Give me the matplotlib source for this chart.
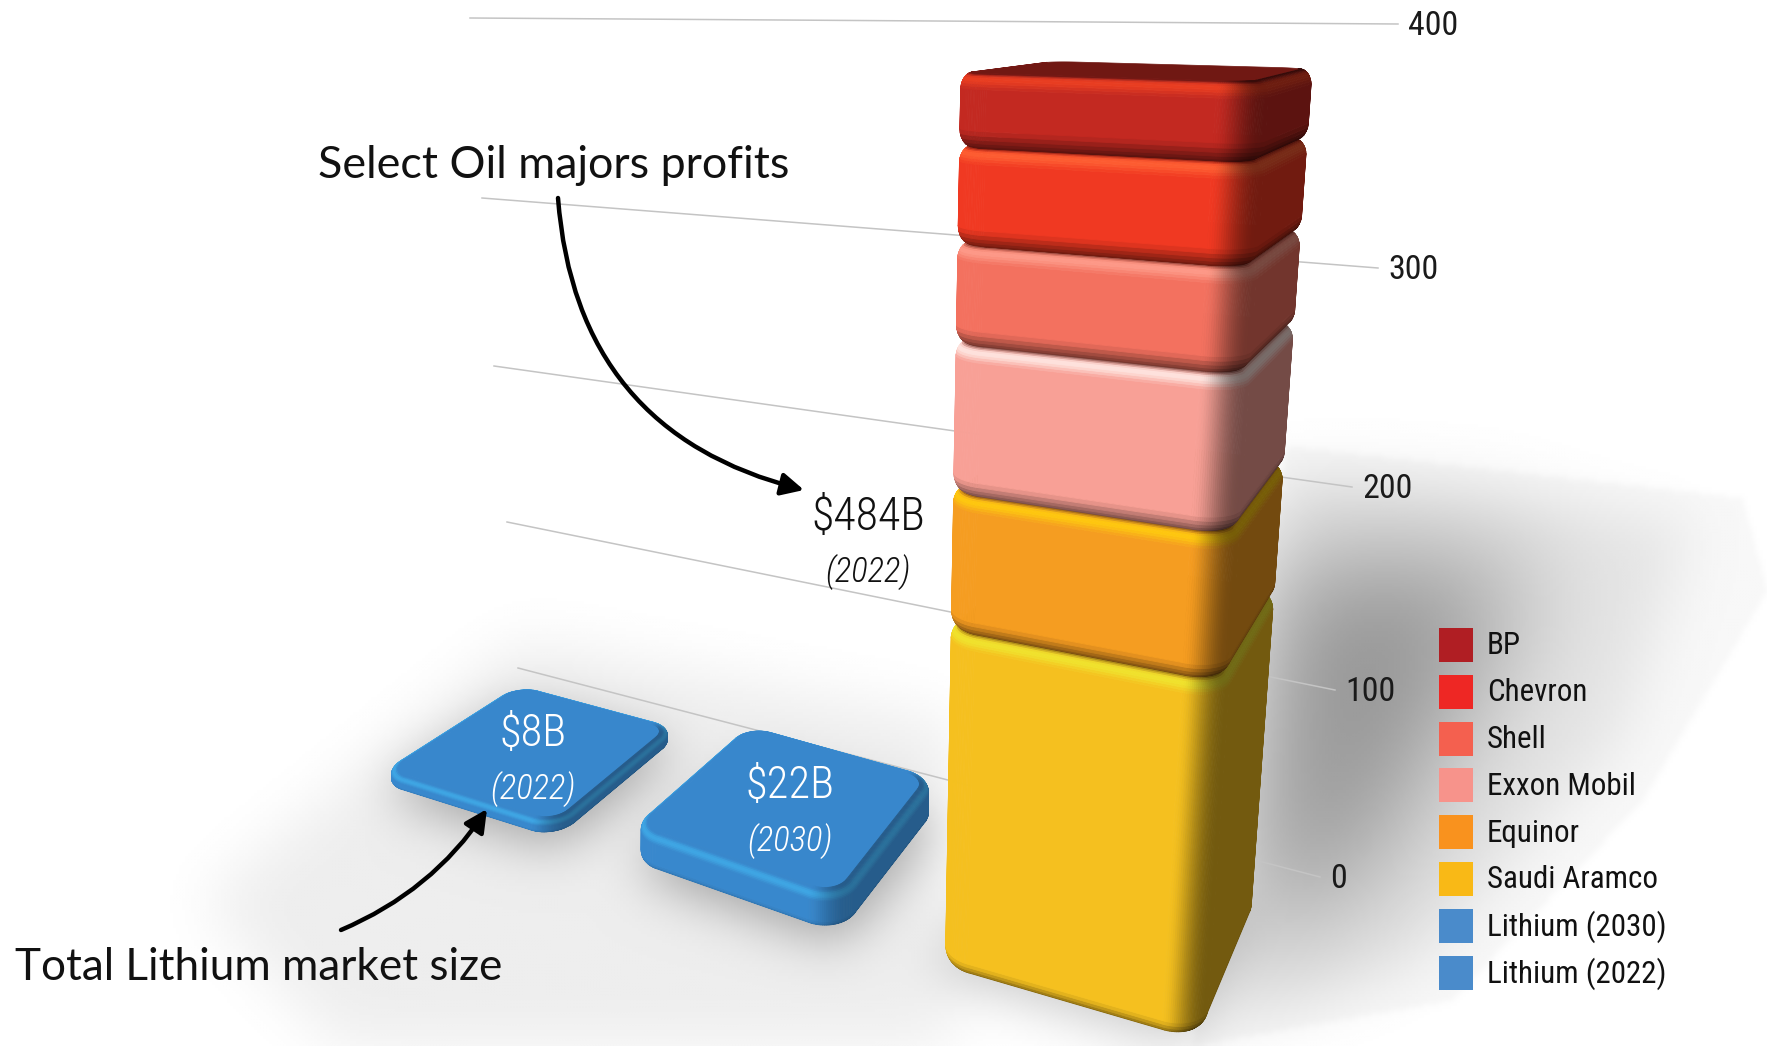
import numpy as np
import matplotlib
matplotlib.use("Agg")
import matplotlib.pyplot as plt
from matplotlib.collections import PolyCollection
from matplotlib.patches import FancyArrowPatch, Rectangle
from matplotlib.path import Path

W, H = 1767, 1046

# ---------------------------------------------------------------------------
# Data
# ---------------------------------------------------------------------------
oil_names = ["Saudi Aramco", "Equinor", "Exxon Mobil", "Shell", "Chevron", "BP"]
oil_values = [165, 62, 64, 41, 39, 29]
lithium_names = ["Lithium (2022)", "Lithium (2030)"]
lithium_values = [8, 22]
axis_ticks = [0, 100, 200, 300, 400]
legend_names = ["BP", "Chevron", "Shell", "Exxon Mobil", "Equinor", "Saudi Aramco",
                "Lithium (2030)", "Lithium (2022)"]
legend_colors = ["#B01E23", "#EE2724", "#F4604F", "#F7938B", "#F9921E", "#F9B916",
                 "#4A8BCB", "#4A8BCB"]

# surface colours of the 3D blocks, same order as oil_values
oil_face = [(0.96, 0.75, 0.12), (0.96, 0.61, 0.13), (0.97, 0.62, 0.58),
            (0.95, 0.44, 0.37), (0.94, 0.22, 0.13), (0.76, 0.16, 0.13)]
oil_high = [(0.94, 0.90, 0.18), (1.00, 0.80, 0.05), (1.00, 0.92, 0.90),
            (1.00, 0.62, 0.55), (1.00, 0.38, 0.20), (0.93, 0.25, 0.13)]
li_face = (0.22, 0.53, 0.80)
li_high = (0.25, 0.68, 0.92)

# ---------------------------------------------------------------------------
# Perspective: bar footprint is u 0..1, w 0..1, height is the axis value
# ---------------------------------------------------------------------------
calib_world = [(0, 0, 0), (1, 0, 0), (1, 1, 0), (0, 0, 400), (1, 0, 400), (1, 1, 400), (0, 1, 400)]
calib_pixel = [(934, 968), (1203, 1045), (1253, 905), (947, 72), (1258, 85), (1319, 66), (1050, 62)]
# slabs are drawn with a footprint of their own: front left, front right, back right, back left
slab_corners = [[(378, 785), (556, 841), (678, 739), (518, 696)],
                [(628, 863), (840, 938), (938, 811), (748, 758)]]
slab_lift = 1.6  # pixels per unit of value
# back wall: left and right end of each grid line
wall_left = [(518, 668), (507, 522), (494, 366), (482, 198), (470, 18)]
wall_right = [(1320, 877), (1335, 690), (1352, 487), (1378, 268), (1398, 24)]


def fit_camera(world, pixel):
    rows = []
    for (X, Y, Z), (x, y) in zip(world, pixel):
        rows.append([X, Y, Z, 1, 0, 0, 0, 0, -x * X, -x * Y, -x * Z, -x])
        rows.append([0, 0, 0, 0, X, Y, Z, 1, -y * X, -y * Y, -y * Z, -y])
    return np.linalg.svd(np.array(rows, float))[2][-1].reshape(3, 4)


CAM = fit_camera(calib_world, calib_pixel)


def project(u, w, z):
    u, w, z = np.broadcast_arrays(u, w, z)
    h = CAM @ np.stack([u.ravel(), w.ravel(), z.ravel(), np.ones(u.size)])
    return (h[0] / h[2]).reshape(u.shape), (h[1] / h[2]).reshape(u.shape)


def slab_projection(corners):
    rows = []
    for (X, Y), (x, y) in zip([(0, 0), (1, 0), (1, 1), (0, 1)], corners):
        rows.append([X, Y, 1, 0, 0, 0, -x * X, -x * Y, -x])
        rows.append([0, 0, 0, X, Y, 1, -y * X, -y * Y, -y])
    M = np.linalg.svd(np.array(rows, float))[2][-1].reshape(3, 3)

    def proj(u, w, z):
        u, w, z = np.broadcast_arrays(u, w, z)
        h = M @ np.stack([u.ravel(), w.ravel(), np.ones(u.size)])
        return (h[0] / h[2]).reshape(u.shape), (h[1] / h[2]).reshape(u.shape) - slab_lift * z
    return proj


def smooth(t):
    t = np.clip(t, 0, 1)
    return t * t * (3 - 2 * t)


def plan_outline(r, inset=0.0, n=30):
    """Rounded unit square seen from above, with the angle of the outward normal."""
    cu = [1 - r, 1 - r, r, r]
    cw = [r, 1 - r, 1 - r, r]
    us, ws, ang = [], [], []
    for k in range(4):
        a = np.radians(np.linspace(90 * k, 90 * (k + 1), n))
        us.append(cu[k] + (r - inset) * np.sin(a))
        ws.append(cw[k] - (r - inset) * np.cos(a))
        ang.append(a)
    us, ws, ang = map(np.concatenate, (us, ws, ang))
    return np.append(us, us[0]), np.append(ws, ws[0]), np.append(ang, 2 * np.pi)


def draw_block(ax, proj, z0, z1, face, high, top, side_dark, high_amt, low_dark=0.55,
               r=0.13, rh=0.04, rv=7.0):
    face, high, top = map(np.array, (face, high, top))

    # flat top first, lip and walls go over it
    tu, tw, _ = plan_outline(r, rh)
    tx, ty = proj(tu, tw, z1)
    ax.fill(tx, ty, color=top, lw=0.5, zorder=3)

    beta = np.radians(np.r_[np.linspace(-90, 0, 7), np.linspace(0, 90, 11)[1:]])
    zs = np.where(beta <= 0, z0 + rv * (1 + np.sin(beta)), z1 - rv * (1 - np.sin(beta)))
    inset = rh * (1 - np.cos(beta))

    x, y, ang = [], [], None
    for zz, ins in zip(zs, inset):
        pu, pw, ang = plan_outline(r, ins)
        px, py = proj(pu, pw, zz)
        x.append(px)
        y.append(py)
    x, y = np.array(x), np.array(y)

    quads = np.stack([
        np.stack([x[:-1, :-1], y[:-1, :-1]], -1), np.stack([x[:-1, 1:], y[:-1, 1:]], -1),
        np.stack([x[1:, 1:], y[1:, 1:]], -1), np.stack([x[1:, :-1], y[1:, :-1]], -1)], axis=2)
    area = np.sum(quads[..., 0] * np.roll(quads[..., 1], -1, axis=2)
                  - np.roll(quads[..., 0], -1, axis=2) * quads[..., 1], axis=2)

    nu = 0.5 * (np.sin(ang[:-1]) + np.sin(ang[1:]))
    b_mid = 0.5 * (beta[:-1] + beta[1:])
    shade = 1 - side_dark * smooth(nu)
    cols = np.zeros(area.shape + (3,))
    for i, b in enumerate(b_mid):
        c = np.array(face, float)
        if b > 0:
            wh = high_amt * np.sin(2 * b) ** 2
            c = c * (1 - wh) + high * wh
            t = smooth((np.degrees(b) - 55) / 35)
            c = c * (1 - t) + top * t
        else:
            c = c * (1 - low_dark * np.sin(-b))
        cols[i] = c[None, :] * shade[:, None]

    # back faces are dropped, the tall front wall quad gives the sign to keep
    keep = np.sign(area) == np.sign(area[6, -1])
    ax.add_collection(PolyCollection(quads[keep], facecolors=cols[keep], edgecolors=cols[keep],
                                     linewidths=0.6, zorder=3))


def blurred_mask(polygon, sigma, step=3):
    xx, yy = np.meshgrid(np.arange(0, W, step), np.arange(0, H, step))
    m = Path(polygon).contains_points(np.c_[xx.ravel(), yy.ravel()]).reshape(xx.shape).astype(float)
    s = sigma / step
    k = np.exp(-0.5 * (np.arange(-int(3 * s), int(3 * s) + 1) / s) ** 2)
    k /= k.sum()
    m = np.apply_along_axis(lambda v: np.convolve(v, k, mode="same"), 0, m)
    m = np.apply_along_axis(lambda v: np.convolve(v, k, mode="same"), 1, m)
    return m


# ---------------------------------------------------------------------------
# Figure
# ---------------------------------------------------------------------------
plt.rcParams["font.family"] = ["Roboto Condensed", "DejaVu Sans"]
fig = plt.figure(figsize=(W / 100, H / 100), dpi=100)
ax = fig.add_axes([0, 0, 1, 1])
ax.set_axis_off()

slab_proj = [slab_projection(c) for c in slab_corners]

# soft shadows on the floor
dark = np.zeros_like(blurred_mask([(0, 0), (1, 0), (1, 1)], 3))
dark += 0.03 * blurred_mask([(1285, 445), (1740, 497), (1765, 590), (1640, 800), (1450, 1000), (1190, 1046)], 3)
dark += 0.07 * blurred_mask([(1285, 470), (1690, 520), (1620, 740), (1420, 960), (1220, 1030)], 28)
dark += 0.33 * blurred_mask([(1270, 555), (1540, 560), (1450, 720), (1370, 870), (1240, 960)], 60)
dark += 0.07 * blurred_mask([(200, 900), (520, 640), (950, 720), (950, 1060), (350, 1060)], 30)
fu, fw, _ = plan_outline(0.13, n=8)
for sp in slab_proj:
    fx, fy = sp(fu, fw, 0)
    dark += 0.28 * blurred_mask(np.c_[fx, fy + 8], 25)
fx, fy = project(fu, fw, 0)
dark += 0.2 * blurred_mask(np.c_[fx - 8, fy + 4], 25)
ax.imshow(1 - dark, extent=(0, W, H, 0), cmap="gray", vmin=0, vmax=1, aspect="auto",
          interpolation="bilinear", zorder=0)

# grid lines and axis labels on the back wall
for i, tick in enumerate(axis_ticks):
    ax.plot([wall_left[i][0], wall_right[i][0]], [wall_left[i][1], wall_right[i][1]],
            color="#c4c4c4", lw=1.1, zorder=1)
    ax.text(wall_right[i][0] + 10, wall_right[i][1] + 2, str(tick), fontsize=24.5,
            ha="left", va="center", color="#1a1a1a", zorder=5)

# lithium slabs
for sp, val in zip(slab_proj, lithium_values):
    draw_block(ax, sp, 0, val, li_face, li_high, li_face, side_dark=0.32, high_amt=0.8,
               low_dark=0.2, r=0.14, rh=0.04, rv=min(5.0, val * 0.35))

# oil majors stack, bottom up so each block overlaps the one under it
bottom = 0
for val, face, high in zip(oil_values, oil_face, oil_high):
    top_col = tuple(0.58 * c for c in face)
    draw_block(ax, project, bottom, bottom + val, face, high, top_col,
               side_dark=0.53, high_amt=0.9)
    bottom += val

# value labels
for (tx, ty), big, small, col, fs in [((868, 517), "$484B", "(2022)", "#111111", 33),
                                      ((533, 734), "$8B", "(2022)", "white", 32),
                                      ((790, 786), "$22B", "(2030)", "white", 32)]:
    ax.text(tx, ty, big, fontsize=fs, weight=300, ha="center", va="center", color=col, zorder=6)
    ax.text(tx, ty + 55, small, fontsize=25, weight=300, style="italic", ha="center",
            va="center", color=col, zorder=6)

# callouts
ax.text(318, 165, "Select Oil majors profits", fontsize=32.3, family=["Lato", "DejaVu Sans"],
        ha="left", va="center", color="#111111", zorder=6)
ax.text(15, 967, "Total Lithium market size", fontsize=31.8, family=["Lato", "DejaVu Sans"],
        ha="left", va="center", color="#111111", zorder=6)
for a, b, rad in [((558, 198), (804, 490), 0.36), ((341, 930), (487, 809), 0.15)]:
    ax.add_patch(FancyArrowPatch(a, b, connectionstyle=f"arc3,rad={rad}",
                                 arrowstyle="-|>,head_length=0.9,head_width=0.45",
                                 mutation_scale=15, lw=3.2, color="black",
                                 shrinkA=0, shrinkB=0, zorder=6))

# legend
for i, (name, col) in enumerate(zip(legend_names, legend_colors)):
    yc = 645 + i * 46.8
    ax.add_patch(Rectangle((1439, yc - 17), 34, 34, facecolor=col, edgecolor="none", zorder=5))
    ax.text(1487, yc + 1, name, fontsize=22.3, ha="left", va="center", color="#111111", zorder=5)

ax.set_xlim(0, W)
ax.set_ylim(H, 0)
fig.savefig("out.png", dpi=100)
